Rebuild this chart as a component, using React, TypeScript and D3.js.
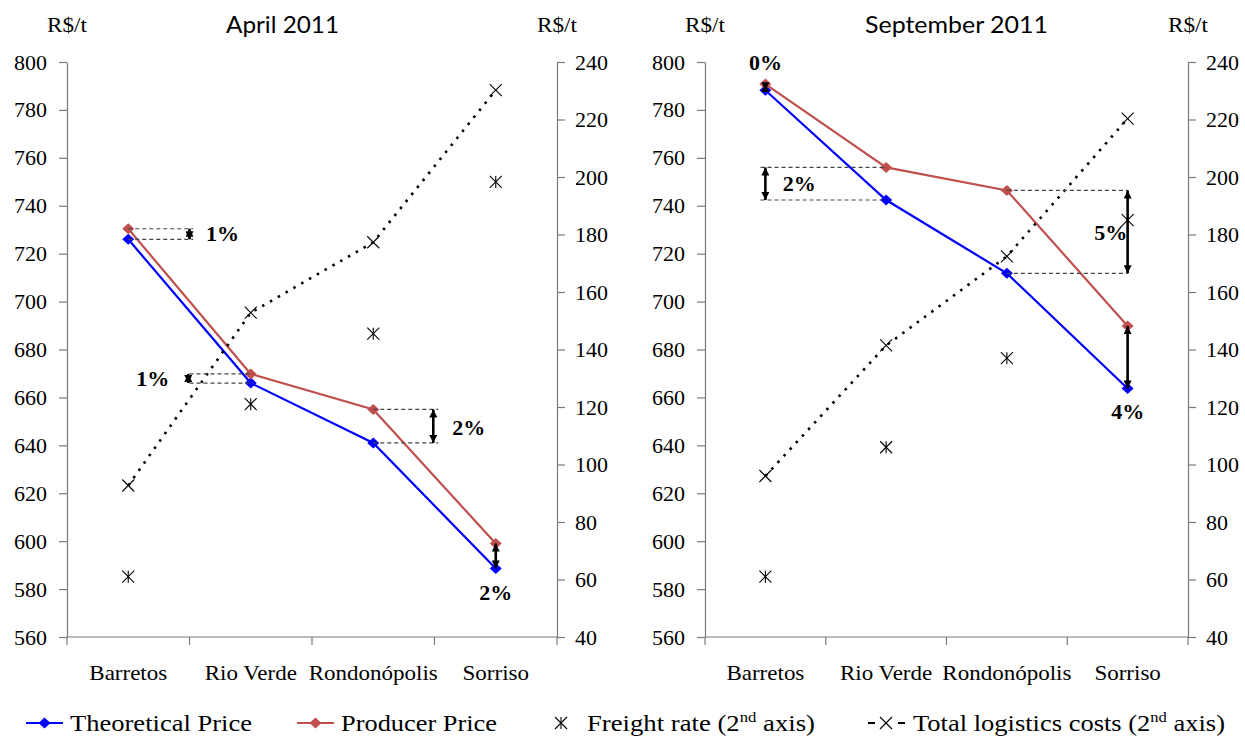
import React, { useEffect, useRef } from 'react';
import * as d3 from 'd3';

const categories = ['Barretos', 'Rio Verde', 'Rondonópolis', 'Sorriso'];
const priceTicks = [560, 580, 600, 620, 640, 660, 680, 700, 720, 740, 760, 780, 800];
const costTicks = [40, 60, 80, 100, 120, 140, 160, 180, 200, 220, 240];
const panelTitles = ['April 2011', 'September 2011'];
const unitLabel = 'R$/t';

const aprilTheoretical = [726, 666, 641, 588.6];
const aprilProducer = [730.4, 669.8, 655, 599];
const aprilFreight = [61, 121, 145.5, 198.3];
const aprilTotal = [92.7, 152.8, 177.3, 230.2];

const septTheoretical = [788.2, 742.4, 711.8, 663.7];
const septProducer = [790.8, 756, 746.4, 689.8];
const septFreight = [61, 106, 137, 185];
const septTotal = [96, 141.4, 172.4, 220.3];

type Gap = {
  label: string; top: number; bottom: number; arrowAt: number;
  lineFrom: number | null; lineTo: number | null; labelAt: number; labelValue: number;
};

const aprilGaps: Gap[] = [
  { label: '1%', top: 730.4, bottom: 726, arrowAt: 0.5, lineFrom: 0, lineTo: 0.53, labelAt: 0.77, labelValue: 728.6 },
  { label: '1%', top: 669.8, bottom: 666, arrowAt: 0.49, lineFrom: 0.5, lineTo: 1.02, labelAt: 0.2, labelValue: 668 },
  { label: '2%', top: 655, bottom: 641, arrowAt: 2.49, lineFrom: 2, lineTo: 2.53, labelAt: 2.78, labelValue: 647.6 },
  { label: '2%', top: 599, bottom: 588.6, arrowAt: 3, lineFrom: null, lineTo: null, labelAt: 3, labelValue: 578.8 },
];
const septGaps: Gap[] = [
  { label: '0%', top: 790.8, bottom: 788.2, arrowAt: 0, lineFrom: null, lineTo: null, labelAt: 0, labelValue: 800 },
  { label: '2%', top: 756, bottom: 742.4, arrowAt: 0, lineFrom: -0.04, lineTo: 1, labelAt: 0.28, labelValue: 749.5 },
  { label: '5%', top: 746.4, bottom: 711.8, arrowAt: 3, lineFrom: 2, lineTo: 3, labelAt: 2.86, labelValue: 729 },
  { label: '4%', top: 689.8, bottom: 663.7, arrowAt: 3, lineFrom: null, lineTo: null, labelAt: 3, labelValue: 654 },
];

const legendLabels = ['Theoretical Price', 'Producer Price', 'Freight rate (2', 'Total logistics costs (2'];

const SERIF = "'Liberation Serif', 'Times New Roman', 'DejaVu Serif', serif";
const SANS = "Lato, 'Open Sans', sans-serif";
const BLUE = '#0000FF';
const RED = '#C0504D';
const AXIS = '#7a7a7a';

type PanelCfg = {
  left: number; right: number; title: string; titleX: number; titleW: number;
  theoretical: number[]; producer: number[]; freight: number[]; total: number[]; gaps: Gap[];
};

const TOP = 62;
const BOTTOM = 637;

function diamondPath(hw: number, hh: number) {
  return `M0,${-hh}L${hw},0L0,${hh}L${-hw},0Z`;
}

function drawX(g: any, cx: number, cy: number, s: number, star: boolean) {
  const m = g.append('g').attr('transform', `translate(${cx},${cy})`).attr('stroke', '#000').attr('stroke-width', 1.1);
  m.append('line').attr('x1', -s).attr('y1', -s).attr('x2', s).attr('y2', s);
  m.append('line').attr('x1', -s).attr('y1', s).attr('x2', s).attr('y2', -s);
  if (star) m.append('line').attr('x1', 0).attr('y1', -s).attr('x2', 0).attr('y2', s);
}

function serif(sel: any, size: number) {
  return sel.style('font-family', SERIF).style('font-size', `${size}px`);
}

function drawPanel(svg: any, p: PanelCfg) {
  const g = svg.append('g');
  const x = d3.scaleBand<string>().domain(categories).range([p.left, p.right]).paddingInner(0).paddingOuter(0);
  const y = d3.scaleLinear().domain([560, 800]).range([BOTTOM, TOP]);
  const y2 = d3.scaleLinear().domain([40, 240]).range([BOTTOM, TOP]);
  const bw = x.bandwidth();
  const cx = (i: number) => (x(categories[i]) as number) + bw / 2;
  const ux = (u: number) => (x(categories[0]) as number) + bw * (u + 0.5);

  // left axis
  const la = g.append('g').attr('transform', `translate(${p.left},0)`)
    .call(d3.axisLeft(y).tickValues(priceTicks).tickSize(8).tickSizeOuter(0).tickPadding(12).tickFormat(d3.format('d')));
  la.selectAll('path,line').attr('stroke', AXIS).attr('stroke-width', 1.2);
  serif(la.selectAll('text'), 22).attr('fill', '#000');

  // right axis
  const ra = g.append('g').attr('transform', `translate(${p.right},0)`)
    .call(d3.axisRight(y2).tickValues(costTicks).tickSize(8).tickSizeOuter(0).tickPadding(10).tickFormat(d3.format('d')));
  ra.selectAll('path,line').attr('stroke', AXIS).attr('stroke-width', 1.2);
  serif(ra.selectAll('text'), 22).attr('fill', '#000');

  // bottom axis
  g.append('line').attr('x1', p.left).attr('x2', p.right).attr('y1', BOTTOM).attr('y2', BOTTOM)
    .attr('stroke', AXIS).attr('stroke-width', 1.2);
  const bounds = [...categories.map((c) => x(c) as number), p.right];
  g.selectAll('line.btick').data(bounds).enter().append('line').attr('class', 'btick')
    .attr('x1', (d: number) => d).attr('x2', (d: number) => d).attr('y1', BOTTOM).attr('y2', BOTTOM + 8)
    .attr('stroke', AXIS).attr('stroke-width', 1.2);
  serif(g.selectAll('text.cat').data(categories).enter().append('text').attr('class', 'cat')
    .attr('transform', (_d: string, i: number) => `translate(${cx(i)},680) scale(1.15,1)`)
    .attr('text-anchor', 'middle'), 20).attr('fill', '#000')
    .text((d: string) => d);

  // unit labels + title
  [p.left, p.right].forEach((ax) => {
    serif(g.append('text').attr('x', ax).attr('y', 32).attr('text-anchor', 'middle'), 21)
      .attr('textLength', 40).attr('lengthAdjust', 'spacingAndGlyphs').text(unitLabel);
  });
  g.append('text').attr('x', p.titleX).attr('y', 33).attr('text-anchor', 'middle')
    .style('font-family', SANS).style('font-size', '23px')
    .attr('textLength', p.titleW).attr('lengthAdjust', 'spacingAndGlyphs').text(p.title);

  // price lines
  const line = d3.line<number>().x((_d, i) => cx(i)).y((d) => y(d));
  const series = [{ v: p.theoretical, c: BLUE }, { v: p.producer, c: RED }];
  series.forEach((s) => {
    g.append('path').attr('d', line(s.v)).attr('fill', 'none').attr('stroke', s.c).attr('stroke-width', 2.2);
    s.v.forEach((v, i) => {
      g.append('path').attr('d', diamondPath(6, 5.5)).attr('transform', `translate(${cx(i)},${y(v)})`).attr('fill', s.c);
    });
  });

  // total logistics (dotted) and freight
  const line2 = d3.line<number>().x((_d, i) => cx(i)).y((d) => y2(d));
  g.append('path').attr('d', line2(p.total)).attr('fill', 'none').attr('stroke', '#000')
    .attr('stroke-width', 2.6).attr('stroke-dasharray', '2.5,6.5');
  p.total.forEach((v, i) => drawX(g, cx(i), y2(v), 6, false));
  p.freight.forEach((v, i) => drawX(g, cx(i), y2(v), 6, true));

  // gap annotations
  p.gaps.forEach((a) => {
    if (a.lineFrom !== null && a.lineTo !== null) {
      [a.top, a.bottom].forEach((v) => {
        g.append('line').attr('x1', ux(a.lineFrom as number)).attr('x2', ux(a.lineTo as number))
          .attr('y1', y(v)).attr('y2', y(v)).attr('stroke', '#444').attr('stroke-width', 1.2)
          .attr('stroke-dasharray', '4,3');
      });
    }
    g.append('line').attr('x1', ux(a.arrowAt)).attr('x2', ux(a.arrowAt))
      .attr('y1', y(a.top)).attr('y2', y(a.bottom)).attr('stroke', '#000').attr('stroke-width', 2.6)
      .attr('marker-start', 'url(#ah)').attr('marker-end', 'url(#ah)');
    serif(g.append('text').attr('x', ux(a.labelAt)).attr('y', y(a.labelValue)).attr('dy', '0.35em')
      .attr('text-anchor', 'middle'), 22).style('font-weight', 'bold').attr('fill', '#000').text(a.label);
  });
}

export default function App() {
  const ref = useRef<SVGSVGElement>(null);
  useEffect(() => {
    const svg = d3.select(ref.current);
    svg.selectAll('*').remove();
    const defs = svg.append('defs');
    defs.append('marker').attr('id', 'ah').attr('viewBox', '0 0 10 10').attr('refX', 10).attr('refY', 5)
      .attr('markerWidth', 9).attr('markerHeight', 8).attr('markerUnits', 'userSpaceOnUse')
      .attr('orient', 'auto-start-reverse')
      .append('path').attr('d', 'M0,0L10,5L0,10Z').attr('fill', '#000');

    svg.append('rect').attr('width', 1245).attr('height', 738).attr('fill', '#fff');

    drawPanel(svg, {
      left: 67, right: 557, title: panelTitles[0], titleX: 282.5, titleW: 113,
      theoretical: aprilTheoretical, producer: aprilProducer, freight: aprilFreight, total: aprilTotal, gaps: aprilGaps,
    });
    drawPanel(svg, {
      left: 705, right: 1188, title: panelTitles[1], titleX: 956.5, titleW: 183,
      theoretical: septTheoretical, producer: septProducer, freight: septFreight, total: septTotal, gaps: septGaps,
    });

    // legend
    const LY = 723;
    const lg = svg.append('g');
    const lineItems = [{ x1: 26, x2: 63, c: BLUE }, { x1: 297, x2: 334, c: RED }];
    lineItems.forEach((it) => {
      lg.append('line').attr('x1', it.x1).attr('x2', it.x2).attr('y1', LY).attr('y2', LY)
        .attr('stroke', it.c).attr('stroke-width', 2.2);
      lg.append('path').attr('d', diamondPath(6, 5.5)).attr('transform', `translate(${(it.x1 + it.x2) / 2},${LY})`)
        .attr('fill', it.c);
    });
    drawX(lg, 561, LY, 6, true);
    lg.append('line').attr('x1', 868).attr('x2', 875).attr('y1', LY).attr('y2', LY).attr('stroke', '#000').attr('stroke-width', 2);
    lg.append('line').attr('x1', 898).attr('x2', 905).attr('y1', LY).attr('y2', LY).attr('stroke', '#000').attr('stroke-width', 2);
    drawX(lg, 886, LY, 6, false);

    const texts = [
      { x: 70, w: 182, t: legendLabels[0], sup: false },
      { x: 341, w: 156, t: legendLabels[1], sup: false },
      { x: 587, w: 228, t: legendLabels[2], sup: true },
      { x: 913, w: 312, t: legendLabels[3], sup: true },
    ];
    texts.forEach((d) => {
      const t = serif(lg.append('text').attr('x', d.x).attr('y', LY + 8), 24)
        .attr('fill', '#000').attr('textLength', d.w).attr('lengthAdjust', 'spacingAndGlyphs');
      t.append('tspan').text(d.t);
      if (d.sup) {
        t.append('tspan').attr('dy', -9).style('font-size', '15px').text('nd');
        t.append('tspan').attr('dy', 9).text(' axis)');
      }
    });
  }, []);
  return (
    <svg ref={ref} width={1245} height={738} style={{ position: 'absolute', left: 0, top: 0, display: 'block' }} />
  );
}
